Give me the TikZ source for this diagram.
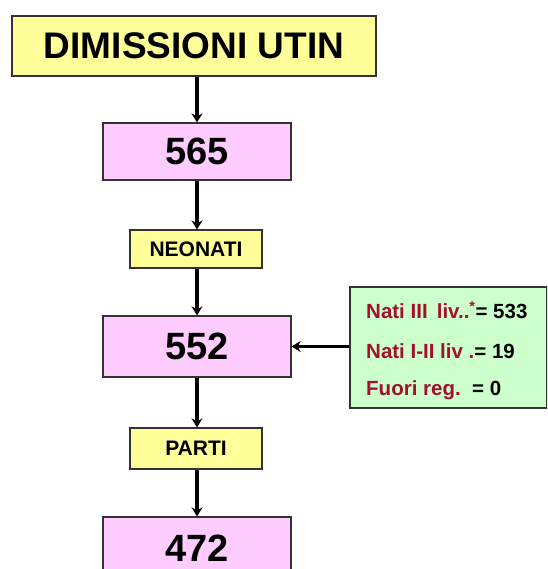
\documentclass[tikz,border=0pt]{standalone}
\usepackage{fontspec}
\setmainfont{Liberation Sans}
\usetikzlibrary{arrows.meta}
\definecolor{ybox}{HTML}{FFFF99}
\definecolor{pbox}{HTML}{FFCCFF}
\definecolor{gbox}{HTML}{CCFFCC}
\definecolor{dred}{HTML}{A3102E}
\tikzset{
  boxbase/.style={draw=black!80, line width=1.2pt, inner sep=0pt, font=\bfseries},
  titlebox/.style={boxbase, fill=ybox, minimum width=364pt, minimum height=60pt},
  numbox/.style={boxbase, fill=pbox, minimum width=188pt, minimum height=58pt, font=\bfseries\fontsize{38}{42}\selectfont},
  labbox/.style={boxbase, fill=ybox, minimum width=132pt, minimum height=39pt, font=\bfseries\fontsize{21}{24}\selectfont},
  infobox/.style={boxbase, fill=gbox, minimum width=197pt, minimum height=121pt},
  flow/.style={line width=3.8pt, -{Stealth[length=9pt,width=11pt]}},
  infotext/.style={anchor=west, font=\bfseries\fontsize{20.5}{24}\selectfont, inner sep=0pt}
}
\begin{document}
\begin{tikzpicture}[x=1pt,y=-1pt]
\useasboundingbox (0,0) rectangle (547,569);
\clip (0,0) rectangle (547,569);
\node[titlebox, font=\bfseries\fontsize{37}{40}\selectfont] (title) at (194,46) {DIMISSIONI UTIN};
\node[numbox, minimum height=57pt] (n565) at (197,151.5) {565};
\node[labbox, minimum height=38pt] (neo) at (196,249) {NEONATI};
\node[numbox, minimum height=61pt] (n552) at (197,346.5) {552};
\node[labbox, minimum height=41pt] (parti) at (196,448.5) {PARTI};
\node[numbox, minimum height=62pt] (n472) at (197,548) {472};
\node[infobox] (info) at (448.5,347.5) {};
\node[infotext] (l1) at (366,310) {\textcolor{dred}{Nati III\, liv..\textsuperscript{*}}= 533};
\node[infotext] (l2) at (366,351) {\textcolor{dred}{Nati I-II liv .}= 19};
\node[infotext] (l3) at (366,390) {\textcolor{dred}{Fuori reg.}\ \ = 0};
\draw[flow] (title.south -| n565) -- (n565.north);
\draw[flow] (n565.south) -- (n565.south |- neo.north);
\draw[flow] (n565.south |- neo.south) -- (n552.north);
\draw[flow] (n552.south) -- (n552.south |- parti.north);
\draw[flow] (n552.south |- parti.south) -- (n472.north);
\draw[flow] (info.west |- n552) -- (n552.east);
\end{tikzpicture}
\end{document}
